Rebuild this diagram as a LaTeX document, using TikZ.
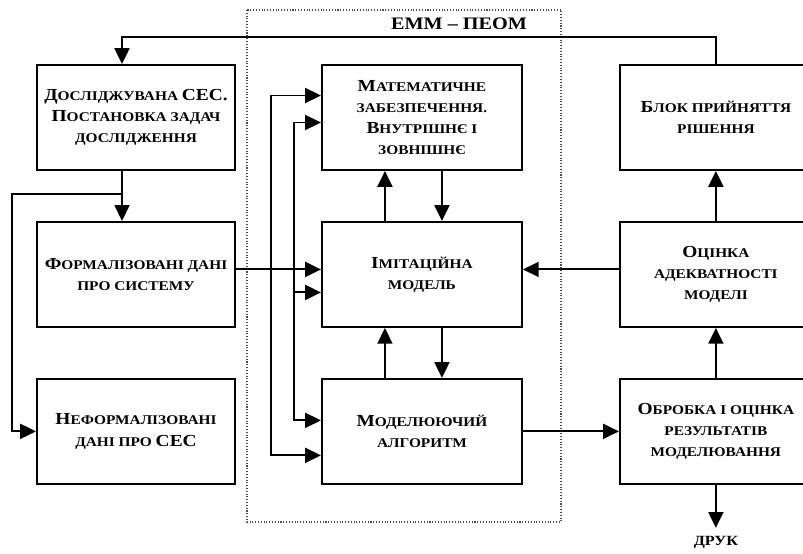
\documentclass[tikz,border=0pt]{standalone}
\usepackage{fontspec}
\setmainfont{Liberation Serif}[FakeStretch=1.15]
\usetikzlibrary{positioning,arrows.meta}

% capital letter of the small caps text
\newcommand{\vl}[1]{{\fontsize{9.6}{12}\selectfont #1}}

\tikzset{
  blok/.style={draw, line width=1.1pt, minimum width=3.96cm, minimum height=2.1cm,
    align=center, inner sep=2pt, font=\fontsize{7.6}{12}\selectfont\bfseries},
  arr/.style={line width=1.1pt, -{Triangle[length=9pt,width=8.5pt]}},
  arrb/.style={line width=1.1pt, {Triangle[length=9pt,width=8.5pt]}-{Triangle[length=9pt,width=8.5pt]}},
  ramka/.style={densely dotted, line width=0.6pt, black!70},
}

\begin{document}
\begin{tikzpicture}
  \useasboundingbox (0,0) rectangle (16.06,-11.06);

  % Define nodes
  \node[blok] (doslid) at (2.72,-2.35) {\vl{Д}ОСЛІДЖУВАНА \vl{СЕС.}\\ \vl{П}ОСТАНОВКА ЗАДАЧ\\ ДОСЛІДЖЕННЯ};
  \node[blok, below=1cm of doslid] (formal) {\vl{Ф}ОРМАЛІЗОВАНІ ДАНІ\\ ПРО СИСТЕМУ};
  \node[blok, below=1cm of formal] (neform) {\vl{Н}ЕФОРМАЛІЗОВАНІ\\ ДАНІ ПРО \vl{СЕС}};

  \node[blok, minimum width=4cm, right=1.7cm of doslid] (matem) {\vl{М}АТЕМАТИЧНЕ\\ ЗАБЕЗПЕЧЕННЯ.\\ \vl{В}НУТРІШНЄ І\\ ЗОВНІШНЄ};
  \node[blok, minimum width=4cm, right=1.7cm of formal] (imit) {\vl{І}МІТАЦІЙНА\\ МОДЕЛЬ};
  \node[blok, minimum width=4cm, right=1.7cm of neform] (algor) {\vl{М}ОДЕЛЮЮЧИЙ\\ АЛГОРИТМ};

  \node[blok, minimum width=3.84cm, right=1.92cm of matem] (rishennya) {\vl{Б}ЛОК ПРИЙНЯТТЯ\\ РІШЕННЯ};
  \node[blok, minimum width=3.84cm, right=1.92cm of imit] (otsinka) {\vl{О}ЦІНКА\\ АДЕКВАТНОСТІ\\ МОДЕЛІ};
  \node[blok, minimum width=3.84cm, right=1.92cm of algor] (obrobka) {\vl{О}БРОБКА І ОЦІНКА\\ РЕЗУЛЬТАТІВ\\ МОДЕЛЮВАННЯ};
  \node[below=0.98cm of obrobka, inner sep=1pt, font=\fontsize{8}{12}\selectfont\bfseries] (druk) {ДРУК};

  % EMM - PEOM frame
  \draw[ramka] (4.94,-0.2) rectangle (11.22,-10.44);
  \node[font=\fontsize{10}{12}\selectfont\bfseries] (emm) at (9.18,-0.48) {ЕММ -- ПЕОМ};

  % Connect the nodes
  \draw[arr] (rishennya.north) -- ++(0,0.54) -| ([xshift=-0.28cm]doslid.north);
  \draw[arr] ([xshift=-0.28cm]doslid.south) -- ([xshift=-0.28cm]formal.north);
  \coordinate (rozg) at ([xshift=-0.28cm,yshift=-0.46cm]doslid.south);
  \draw[arr] (rozg) -- ++(-2.2,0) |- (neform.west);

  \draw[arr] ([yshift=0.1cm]formal.east) -- ([yshift=0.1cm]imit.west);
  \draw[arrb] ([yshift=0.44cm]matem.west) -- ++(-1,0) |- ([yshift=-0.48cm]algor.west);
  \draw[arrb] ([yshift=-0.1cm]matem.west) -- ++(-0.54,0) |- ([yshift=0.22cm]algor.west);
  \draw[arr] ([xshift=-0.54cm,yshift=-0.36cm]imit.west) -- ([yshift=-0.36cm]imit.west);

  \draw[arr] ([xshift=-0.74cm]imit.north) -- ([xshift=-0.74cm]matem.south);
  \draw[arr] ([xshift=0.4cm]matem.south) -- ([xshift=0.4cm]imit.north);
  \draw[arr] ([xshift=-0.74cm]algor.north) -- ([xshift=-0.74cm]imit.south);
  \draw[arr] ([xshift=0.4cm]imit.south) -- ([xshift=0.4cm]algor.north);

  \draw[arr] ([yshift=0.1cm]otsinka.west) -- ([yshift=0.1cm]imit.east);
  \draw[arr] (algor.east) -- (obrobka.west);
  \draw[arr] (obrobka.north) -- (otsinka.south);
  \draw[arr] (otsinka.north) -- (rishennya.south);
  \draw[arr] (obrobka.south) -- ([yshift=0.12cm]druk.north);
\end{tikzpicture}
\end{document}
